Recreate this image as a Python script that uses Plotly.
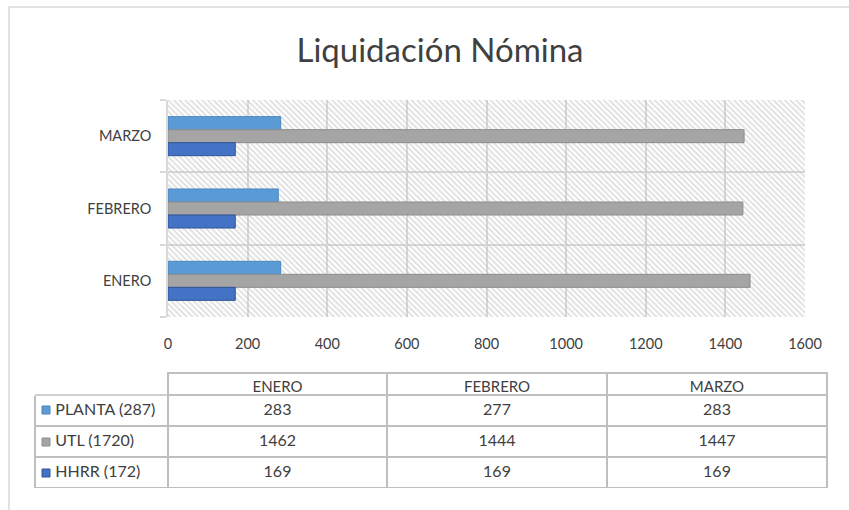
import plotly.graph_objects as go

W, H = 849, 510

title = "Liquidación Nómina"
months = ["ENERO", "FEBRERO", "MARZO"]
series_names = ["PLANTA (287)", "UTL (1720)", "HHRR (172)"]
planta = [283, 277, 283]
utl = [1462, 1444, 1447]
hhrr = [169, 169, 169]
x_ticks = [0, 200, 400, 600, 800, 1000, 1200, 1400, 1600]
x_max = 1600

colors = ["#5B9BD5", "#A5A5A5", "#4472C4"]
edge = ["#4A86C0", "#8C8C8C", "#2F5597"]
offsets = [0.09, -0.09, -0.27]
bar_w = 0.18
txt = "#404040"
grid = "#D9D9D9"
tline = "#BFBFBF"
FONT = "Lato"


def px(x):
    return x / W


def py(y):
    return 1 - y / H


fig = go.Figure()

# hatched plot-area background
fig.add_trace(go.Bar(
    y=months, x=[x_max] * len(months), orientation="h",
    width=1, offset=-0.5,
    marker=dict(color="rgba(0,0,0,0)", line=dict(width=0),
                pattern=dict(shape="\\", fgcolor="#BDBDBD", bgcolor="rgba(0,0,0,0)",
                             size=4, solidity=0.45)),
    hoverinfo="skip", showlegend=False,
))

for name, vals, c, e, off in zip(series_names, [planta, utl, hhrr], colors, edge, offsets):
    fig.add_trace(go.Bar(
        y=months, x=vals, orientation="h", name=name,
        width=bar_w, offset=off,
        marker=dict(color=c, line=dict(color=e, width=1)),
        showlegend=False,
    ))

rows = [planta, utl, hhrr]
pad = "\u00a0" * 3
fig.add_trace(go.Table(
    domain=dict(x=[px(35), px(827)], y=[py(488), py(373)]),
    columnwidth=[133, 219, 220, 220],
    header=dict(
        values=[""] + months,
        align="center",
        height=22,
        fill=dict(color="white"),
        line=dict(color=["white", tline, tline, tline], width=1.5),
        font=dict(family=FONT, size=15, color=txt),
    ),
    cells=dict(
        values=[[pad + n.replace(" ", "\u00a0") for n in series_names]]
               + [[str(r[i]) for r in rows] for i in range(len(months))],
        align=["left", "center", "center", "center"],
        height=31,
        fill=dict(color="white"),
        line=dict(color=tline, width=1.5),
        font=dict(family=FONT, size=16, color=txt),
    ),
))

shapes = [
    # chart-area frame
    dict(type="rect", xref="paper", yref="paper",
         x0=px(9), x1=1.05, y0=-0.05, y1=py(7),
         line=dict(color="#D9D9D9", width=1.5), fillcolor="rgba(0,0,0,0)"),
    # top border of the legend column's first cell
    dict(type="line", xref="paper", yref="paper",
         x0=px(35), x1=px(168), y0=py(395), y1=py(395),
         line=dict(color=tline, width=1.5)),
]
row_centers = [410, 442, 473]
for c, e, yc in zip(colors, edge, row_centers):
    shapes.append(dict(type="rect", xref="paper", yref="paper",
                       x0=px(42), x1=px(50), y0=py(yc + 4), y1=py(yc - 4),
                       line=dict(color=e, width=1), fillcolor=c))

fig.update_layout(
    width=W, height=H,
    margin=dict(l=0, r=0, t=0, b=0),
    paper_bgcolor="white",
    plot_bgcolor="white",
    barmode="overlay",
    title=dict(text=title, x=px(440), xanchor="center", y=py(50), yanchor="middle",
               font=dict(family=FONT, size=33, color=txt)),
    xaxis=dict(domain=[px(168), px(805)], range=[0, x_max], tickvals=x_ticks,
               showgrid=True, gridcolor=grid, gridwidth=1.5, zeroline=False,
               showline=False, ticks="", automargin=False, ticklabelstandoff=16,
               tickfont=dict(family=FONT, size=14.5, color=txt)),
    yaxis=dict(domain=[py(317), py(100)], range=[-0.5, 2.5], type="category",
               categoryorder="array", categoryarray=months,
               showgrid=True, gridcolor=grid, gridwidth=1.5, tickson="boundaries",
               ticks="outside", ticklen=6, tickcolor=grid, tickwidth=1.5,
               showline=True, linecolor=grid, linewidth=1.5, automargin=False,
               ticklabelstandoff=12,
               tickfont=dict(family=FONT, size=14.5, color=txt)),
    shapes=shapes,
)

fig.write_html("out.html", config={"displayModeBar": False},
               post_script="document.body.style.margin='0';document.body.style.overflow='hidden';")
